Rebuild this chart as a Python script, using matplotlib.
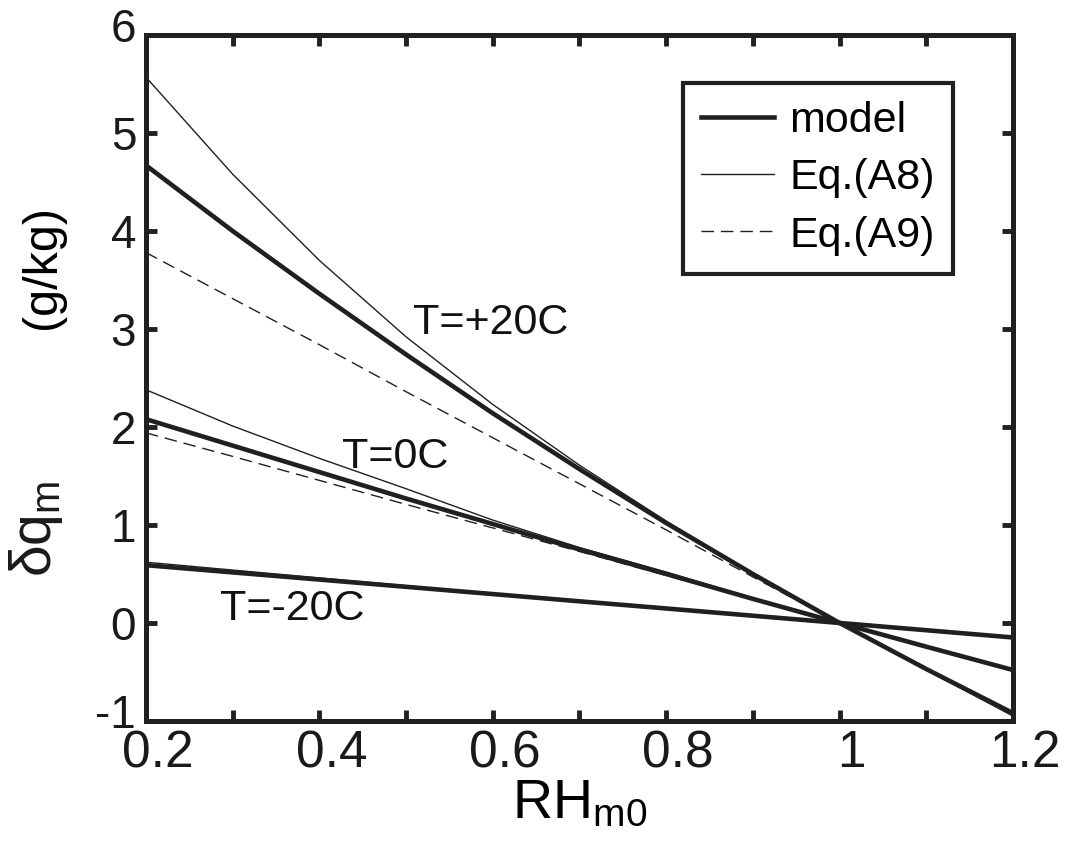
import numpy as np
import matplotlib
matplotlib.use("Agg")
import matplotlib.pyplot as plt
import matplotlib.transforms as mtransforms

plt.rcParams['font.family'] = ['Liberation Sans', 'DejaVu Sans']
plt.rcParams['mathtext.default'] = 'regular'
plt.rcParams['axes.unicode_minus'] = False

ink = '#202020'

# RH_m0 values (x axis)
rh = [0.2, 0.3, 0.4, 0.5, 0.6, 0.7, 0.8, 0.9, 1.0, 1.1, 1.2]

# T = +20C
model_p20 = [4.67, 4.00, 3.36, 2.74, 2.14, 1.57, 1.02, 0.50, 0.0, -0.47, -0.92]
a8_p20 = [5.57, 4.58, 3.70, 2.92, 2.23, 1.61, 1.04, 0.51, 0.0, -0.48, -0.95]
a9_p20 = [3.78, 3.31, 2.84, 2.36, 1.89, 1.42, 0.95, 0.47, 0.0, -0.47, -0.92]

# T = 0C
model_0 = [2.08, 1.81, 1.54, 1.27, 1.01, 0.75, 0.50, 0.246, 0.0, -0.242, -0.48]
a8_0 = [2.38, 2.01, 1.68, 1.37, 1.05, 0.77, 0.52, 0.255, 0.0, -0.245, -0.49]
a9_0 = [1.94, 1.70, 1.455, 1.21, 0.97, 0.73, 0.485, 0.24, 0.0, -0.24, -0.48]

# T = -20C
model_m20 = [0.59, 0.516, 0.443, 0.369, 0.295, 0.221, 0.148, 0.074, 0.0, -0.074, -0.148]
a8_m20 = [0.62, 0.54, 0.46, 0.38, 0.30, 0.225, 0.15, 0.075, 0.0, -0.074, -0.148]
a9_m20 = [0.60, 0.525, 0.45, 0.375, 0.30, 0.225, 0.15, 0.075, 0.0, -0.074, -0.147]

xticks = [0.2, 0.4, 0.6, 0.8, 1.0, 1.2]
xtick_labels = ['0.2', '0.4', '0.6', '0.8', '1', '1.2']
yticks = [-1, 0, 1, 2, 3, 4, 5, 6]

fig = plt.figure(figsize=(10.7, 8.46), dpi=100)
ax = fig.add_axes([0.1364, 0.1478, 0.8103, 0.8108])

groups = [(model_p20, a8_p20, a9_p20), (model_0, a8_0, a9_0), (model_m20, a8_m20, a9_m20)]
for i, (m, a8, a9) in enumerate(groups):
    ax.plot(rh, a9, color=ink, lw=1.0, ls=(0, (9, 5)), label='Eq.(A9)' if i == 0 else None)
    ax.plot(rh, a8, color=ink, lw=1.0, label='Eq.(A8)' if i == 0 else None)
    ax.plot(rh, m, color=ink, lw=3.3, label='model' if i == 0 else None)

ax.text(0.508, 3.06, 'T=+20C', fontsize=31, va='center', ha='left', color='#111111')
ax.text(0.426, 1.69, 'T=0C', fontsize=31, va='center', ha='left', color='#111111')
ax.text(0.285, 0.14, 'T=-20C', fontsize=31, va='center', ha='left', color='#111111')

ax.set_xlim(0.2, 1.2)
ax.set_ylim(-1, 6)
ax.set_xticks(xticks)
ax.set_xticklabels(xtick_labels)
ax.set_xticks(np.arange(0.3, 1.2, 0.2), minor=True)
ax.set_yticks(yticks)
ax.tick_params(which='both', direction='in', top=True, right=True, width=3.5, color=ink,
               length=8, labelcolor='#1a1a1a')
ax.tick_params(axis='x', pad=6, labelsize=37)
ax.tick_params(axis='y', pad=7, labelsize=33)
for s in ax.spines.values():
    s.set_linewidth(3.6)
    s.set_color(ink)

# shift tick labels a little like the original
dx = mtransforms.ScaledTranslation(12 / 100, 0, fig.dpi_scale_trans)
for lab in ax.get_xticklabels():
    lab.set_transform(lab.get_transform() + dx)
dy = mtransforms.ScaledTranslation(0, 10 / 100, fig.dpi_scale_trans)
ylabs = ax.get_yticklabels()
for k in (0, len(ylabs) - 1):
    ylabs[k].set_transform(ylabs[k].get_transform() + dy)

ax.set_xlabel(r'RH$_{m0}$', fontsize=40, labelpad=0)
# y label: units part as the axis label, symbol part drawn a bit larger below it
ax.set_ylabel('(g/kg)', fontsize=35)
ax.yaxis.set_label_coords(-0.093, 0.662)
ax.text(-0.093, 0.28, 'δq$_m$', transform=ax.transAxes, fontsize=41, rotation=90,
        rotation_mode='anchor', ha='center', va='bottom', color='#1a1a1a')

handles, labels = ax.get_legend_handles_labels()
order = [labels.index('model'), labels.index('Eq.(A8)'), labels.index('Eq.(A9)')]
leg = ax.legend([handles[k] for k in order], [labels[k] for k in order],
                loc='upper right', bbox_to_anchor=(0.931, 0.93), borderaxespad=0,
                fontsize=31, fancybox=False, edgecolor=ink, framealpha=1,
                handlelength=1.7, handletextpad=0.35, labelspacing=0.4, borderpad=0.42)
leg.get_frame().set_linewidth(3)

fig.savefig('out.png', dpi=100)
